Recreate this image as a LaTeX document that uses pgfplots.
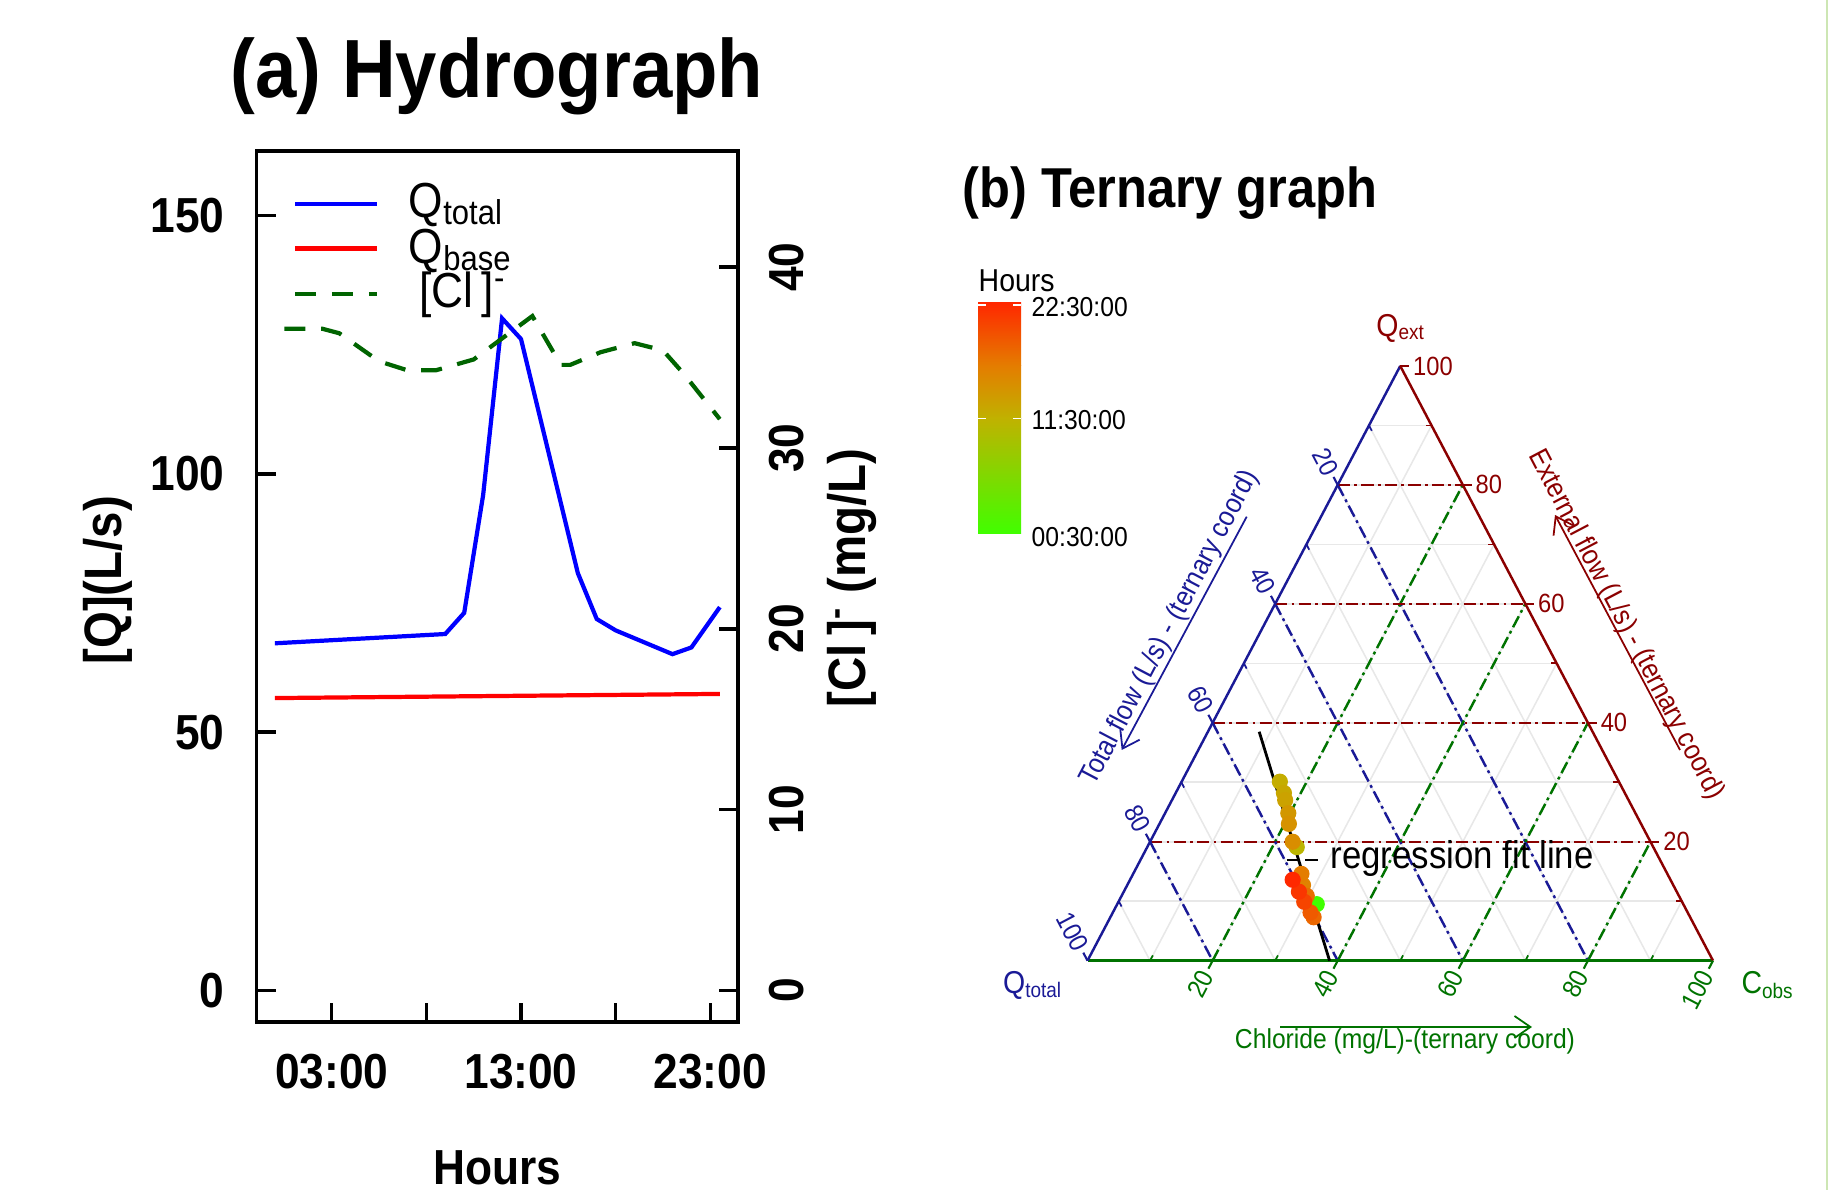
\documentclass[border=0pt]{standalone}
\usepackage{fontspec}
\setmainfont{Liberation Sans}[FakeStretch=0.9]
\usepackage{pgfplots}
\usepackage{pgfplotstable}
\pgfplotsset{compat=1.18}
\usetikzlibrary{arrows.meta}

\definecolor{qblue}{RGB}{0,0,255}
\definecolor{qred}{RGB}{255,0,0}
\definecolor{cgreen}{RGB}{0,100,0}
\definecolor{tblue}{RGB}{26,26,150}
\definecolor{tred}{RGB}{139,0,0}
\definecolor{tgreen}{RGB}{0,115,0}
\definecolor{tgrid}{RGB}{232,232,232}
\definecolor{cbA}{RGB}{64,255,0}
\definecolor{cbB}{RGB}{192,178,0}
\definecolor{cbC}{RGB}{228,125,0}
\definecolor{cbD}{RGB}{255,40,0}
\definecolor{edge}{RGB}{205,230,180}

\newcommand{\fs}[2]{\fontsize{#1}{#2}\selectfont}
\newcommand{\tfont}{\fs{7.5}{9}}

% hydrograph data (hours)
\pgfplotstableread{
h q
0.0 67.2
9.0 69.0
10.0 73.1
11.0 95.9
12.0 130.1
13.0 126.1
16.0 80.8
17.0 71.9
18.0 69.7
21.0 65.1
22.0 66.4
23.5 74.2
}\qtotaldata
\pgfplotstableread{
h q
0.0 56.6
23.5 57.4
}\qbasedata
\pgfplotstableread{
h cl
0.5 36.6
2.5 36.6
3.4 36.35
5.5 34.8
7.0 34.3
8.5 34.3
10.5 34.9
13.6 37.3
15.1 34.6
15.6 34.6
17.2 35.3
19.0 35.8
20.5 35.4
21.6 34.1
23.5 31.6
}\cldata

% ternary data: Qtotal, Qext, Cobs (percent), hour
\pgfplotstableread{
qt qe cl h
58.6 9.5 31.9 0.5
57.0 19.1 23.9 11.0
54.2 30.1 15.7 12.0
54.5 28.2 17.3 12.5
54.9 27.0 18.1 13.0
55.5 24.8 19.7 14.0
56.3 23.0 20.7 14.5
57.2 20.0 22.8 15.0
59.2 12.7 28.1 16.0
58.5 14.6 26.9 16.5
59.5 10.9 29.6 17.5
60.2 7.3 32.5 18.0
60.3 8.1 31.6 19.0
60.4 9.9 29.7 20.5
60.4 11.6 28.0 21.5
60.4 13.6 26.0 22.5
}\terndata
\pgfplotstableread{
qt qe cl
53.3 38.5 8.2
61.3 0.0 38.7
}\regdata

\pgfplotsset{
  hyd/.style={at={(2.565cm,1.68cm)}, anchor=south west, scale only axis,
    width=4.815cm, height=8.71cm, xmin=-0.97, xmax=24.46,
    axis line style={line width=1pt},
    tick style={line width=1pt, black},
    tick align=inside, major tick length=0.19cm,
    tick label style={font=\fs{14}{17}\bfseries},
    /pgf/number format/assume math mode=true},
  tern/.style={at={(10.875cm,2.293cm)}, anchor=south west, scale only axis,
    width=6.255cm, height=5.947cm, xmin=0, xmax=100, ymin=0, ymax=100,
    hide axis, clip=false},
  colormap={hours}{rgb255(0cm)=(64,255,0) rgb255(11cm)=(192,178,0) rgb255(16cm)=(228,125,0) rgb255(22cm)=(255,40,0)},
}
\tikzset{ddot/.style={line width=0.7pt, dash pattern=on 3.5pt off 1.2pt on 0.8pt off 1.2pt}}

\begin{document}
\begin{tikzpicture}
\path[use as bounding box] (0,0) rectangle (18.38,11.90);
\draw[edge, line width=0.5pt] (18.27,0) -- (18.27,11.90);

\node[font=\fs{23.5}{28}\bfseries] at (4.97,11.14) {(a) Hydrograph};
\node[font=\fs{16}{19}\bfseries] at (11.70,9.97) {(b) Ternary graph};

% ---- (a) hydrograph, discharge
\begin{axis}[hyd, ymin=-6.1, ymax=162.5,
    tick pos=left,
    xtick={3,8,13,18,23}, xticklabels={03:00,,13:00,,23:00},
    ytick={0,50,100,150},
    xticklabel shift=2mm, yticklabel shift=1.95mm,
    xlabel={Hours}, ylabel={[Q](L/s)},
    every axis x label/.style={at={(axis description cs:0.5,-0.167)}, anchor=center, font=\fs{14}{17}\bfseries},
    every axis y label/.style={at={(axis description cs:-0.308,0.507)}, rotate=90, anchor=center, font=\fs{15}{18}\bfseries},
  ]
\addplot[qred, line width=1.2pt] table[x=h, y=q] {\qbasedata};
\addplot[qblue, line width=1.2pt] table[x=h, y=q] {\qtotaldata};
\end{axis}

% ---- (a) hydrograph, chloride
\begin{axis}[hyd, ymin=-1.74, ymax=46.43,
    axis x line=none, axis y line*=right,
    ytick={0,10,20,30,40},
    yticklabel style={rotate=90, anchor=north},
    yticklabel shift=1.9mm,
    ylabel={[Cl\,]\textsuperscript{-} (mg/L)},
    every axis y label/.style={at={(axis description cs:1.237,0.51)}, rotate=90, anchor=center, font=\fs{15}{18}\bfseries},
  ]
\addplot[cgreen, line width=1.2pt, dash pattern=on 6pt off 4.5pt] table[x=h, y=cl] {\cldata};
% legend
\draw[qblue, line width=1.2pt] (axis description cs:0.080,0.939) -- (axis description cs:0.250,0.939);
\draw[qred, line width=1.2pt] (axis description cs:0.080,0.888) -- (axis description cs:0.250,0.888);
\draw[cgreen, line width=1.2pt, dash pattern=on 6pt off 4.5pt] (axis description cs:0.080,0.836) -- (axis description cs:0.250,0.836);
\node[anchor=base west, inner sep=0pt, font=\fs{14}{17}] at (axis description cs:0.315,0.924) {Q\textsubscript{total}};
\node[anchor=base west, inner sep=0pt, font=\fs{14}{17}] at (axis description cs:0.315,0.871) {Q\textsubscript{base}};
\node[anchor=base west, inner sep=0pt, font=\fs{14}{17}] at (axis description cs:0.337,0.820) {[Cl\,]\textsuperscript{-}};
\end{axis}

% ---- (b) ternary frame (weights as fractions)
\coordinate (A) at (10.875,2.293);
\coordinate (B) at (14.0025,8.24);
\coordinate (C) at (17.13,2.293);

\foreach \v/\w in {0.1/0.9,0.2/0.8,0.3/0.7,0.4/0.6,0.5/0.5,0.6/0.4,0.7/0.3,0.8/0.2,0.9/0.1} {
  \draw[tgrid, line width=0.45pt] (barycentric cs:A=\w,B=\v,C=0) -- (barycentric cs:A=0,B=\v,C=\w);
  \draw[tgrid, line width=0.45pt] (barycentric cs:A=\v,B=\w,C=0) -- (barycentric cs:A=\v,B=0,C=\w);
  \draw[tgrid, line width=0.45pt] (barycentric cs:A=\w,B=0,C=\v) -- (barycentric cs:A=0,B=\w,C=\v);
}
\foreach \v/\w in {0.2/0.8,0.4/0.6,0.6/0.4,0.8/0.2} {
  \draw[tblue, ddot] (barycentric cs:A=\v,B=\w,C=0) -- (barycentric cs:A=\v,B=0,C=\w);
  \draw[tgreen, ddot] (barycentric cs:A=\w,B=0,C=\v) -- (barycentric cs:A=0,B=\w,C=\v);
  \draw[tred, ddot] (barycentric cs:A=\w,B=\v,C=0) -- (barycentric cs:A=0,B=\v,C=\w);
}
\draw[tgreen, line width=0.7pt] (A) -- (C);
\draw[tblue, line width=0.7pt] (A) -- (B);
\draw[tred, line width=0.7pt] (B) -- (C);

\foreach \v/\w in {0.1/0.9,0.3/0.7,0.5/0.5,0.7/0.3,0.9/0.1} {
  \draw[tred, line width=0.5pt] (barycentric cs:A=0,B=\v,C=\w) -- ++(-0.06,0);
  \draw[tblue, line width=0.5pt] (barycentric cs:A=\v,B=\w,C=0) -- ++(0.028,-0.053);
  \draw[tgreen, line width=0.5pt] (barycentric cs:A=\w,B=0,C=\v) -- ++(0.028,0.053);
}
\foreach \v/\w/\l in {0.2/0.8/20,0.4/0.6/40,0.6/0.4/60,0.8/0.2/80,1/0/100} {
  \draw[tred, line width=0.6pt] (barycentric cs:A=0,B=\v,C=\w) -- ++(0.09,0)
    node[anchor=west, inner sep=0.8pt, text=tred, font=\tfont] {\l};
  \draw[tblue, line width=0.6pt] (barycentric cs:A=\v,B=\w,C=0) -- ++(-0.042,0.080)
    node[anchor=east, rotate=-62.3, inner sep=0.8pt, text=tblue, font=\tfont] {\l};
  \draw[tgreen, line width=0.6pt] (barycentric cs:A=\w,B=0,C=\v) -- ++(-0.042,-0.080)
    node[anchor=east, rotate=62.3, inner sep=0.8pt, text=tgreen, font=\tfont] {\l};
}

\node[text=tblue, font=\fs{9}{11}] at (10.33,2.05) {Q\textsubscript{total}};
\node[text=tgreen, font=\fs{9}{11}] at (17.68,2.05) {C\textsubscript{obs}};
\node[text=tred, font=\fs{9}{11}] at (14.01,8.62) {Q\textsubscript{ext}};

\node[text=tblue, rotate=62.3, font=\fs{8}{10}] at (11.70,5.62) {Total flow (L/s) - (ternary coord)};
\draw[tblue, line width=0.5pt, -{Straight Barb[length=1.6mm, width=2.2mm]}] (12.467,6.733) -- (11.217,4.40);
\node[text=tred, rotate=-62.3, font=\fs{8}{10}] at (16.258,5.65) {External flow (L/s) - (ternary coord)};
\draw[tred, line width=0.5pt, -{Straight Barb[length=1.6mm, width=2.2mm]}] (16.80,4.40) -- (15.55,6.75);
\node[text=tgreen, font=\fs{7.8}{9.5}] at (14.05,1.49) {Chloride (mg/L)-(ternary coord)};
\draw[tgreen, line width=0.5pt, -{Straight Barb[length=1.6mm, width=2.2mm]}] (12.80,1.63) -- (15.32,1.63);

% colour key
\shade[bottom color=cbA, top color=cbB] (9.78,6.56) rectangle (10.21,7.715);
\shade[bottom color=cbB, top color=cbC] (9.78,7.715) rectangle (10.21,8.24);
\shade[bottom color=cbC, top color=cbD] (9.78,8.24) rectangle (10.21,8.87);
\foreach \y in {7.715,8.85} {
  \draw[white, line width=0.5pt] (9.78,\y) -- (9.86,\y);
  \draw[white, line width=0.5pt] (10.13,\y) -- (10.21,\y);
}
\node[anchor=west, inner sep=0pt, font=\fs{9}{11}] at (9.78,9.09) {Hours};
\node[anchor=west, inner sep=0pt, font=\fs{7.8}{9.5}] at (10.31,8.83) {22:30:00};
\node[anchor=west, inner sep=0pt, font=\fs{7.8}{9.5}] at (10.31,7.70) {11:30:00};
\node[anchor=west, inner sep=0pt, font=\fs{7.8}{9.5}] at (10.31,6.53) {00:30:00};

% ---- (b) ternary data
\begin{axis}[tern, colormap name=hours, point meta min=0.5, point meta max=22.5]
\addplot[black, line width=0.8pt] table[x expr=\thisrow{cl}+0.5*\thisrow{qe}, y=qe] {\regdata};
\addplot[scatter, only marks, mark=*, mark size=2.1pt,
  scatter/use mapped color={draw=mapped color, fill=mapped color},
  point meta=explicit]
  table[x expr=\thisrow{cl}+0.5*\thisrow{qe}, y=qe, meta=h] {\terndata};
\end{axis}
\draw[black, line width=0.8pt, dash pattern=on 3.5pt off 1.8pt] (12.867,3.30) -- (13.20,3.30);
\node[anchor=west, inner sep=0pt, font=\fs{11}{13}] at (13.30,3.31) {regression fit line};
\end{tikzpicture}
\end{document}
